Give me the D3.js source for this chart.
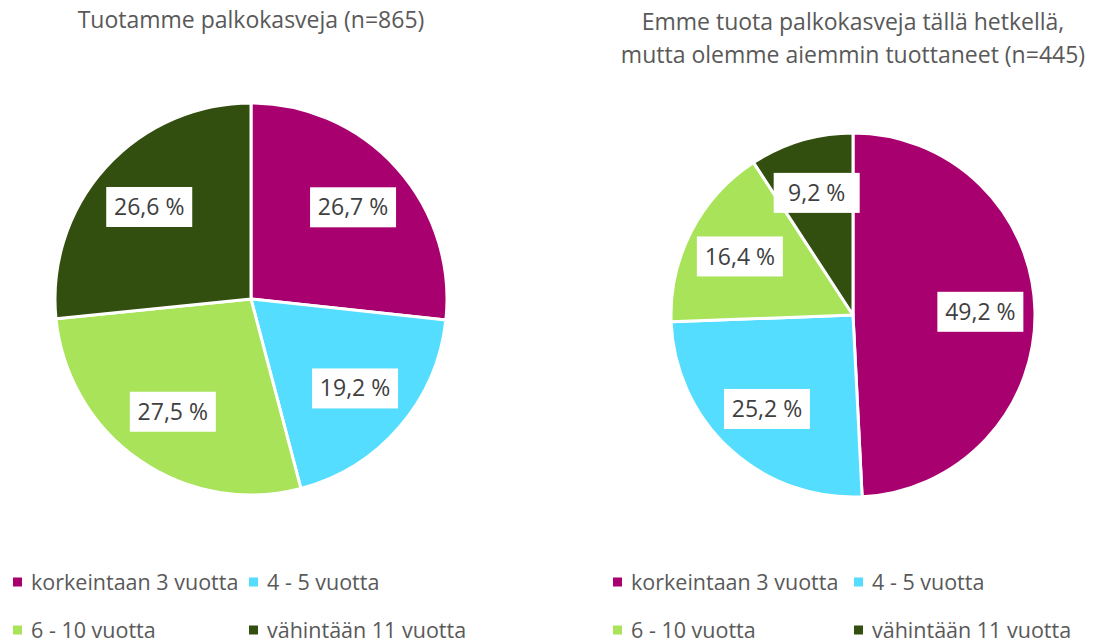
<!DOCTYPE html>
<html>
<head>
<meta charset="utf-8">
<script src="https://cdn.jsdelivr.net/npm/d3@7"></script>
<style>
  body { margin: 0; background: #fff; }
  text { font-family: "Open Sans", "Noto Sans", sans-serif; }
</style>
</head>
<body>
<div id="chart"></div>
<script>
// categories and colours
const categories = ["korkeintaan 3 vuotta", "4 - 5 vuotta", "6 - 10 vuotta", "vähintään 11 vuotta"];
const colors = ["#A8006F", "#55DDFF", "#A8E35A", "#334F10"];

// series values (%)
const producingValues = [26.7, 19.2, 27.5, 26.6];
const formerValues = [49.2, 25.2, 16.4, 9.2];

const producingTitle = ["Tuotamme palkokasveja (n=865)"];
const formerTitle = ["Emme tuota palkokasveja tällä hetkellä,", "mutta olemme aiemmin tuottaneet (n=445)"];

const width = 1100, height = 642;

const svg = d3.select("#chart").append("svg")
    .attr("width", width)
    .attr("height", height);

const fmt = v => d3.format(".1f")(v).replace(".", ",") + " %";

function drawPie(values, titleLines, cx, cy, r, titleY, legendX, colGap) {
    let g = svg.append("g");

    // title
    titleLines.forEach((line, i) => {
        g.append("text")
            .attr("x", cx)
            .attr("y", titleY + i * 33)
            .attr("text-anchor", "middle")
            .attr("font-size", 23)
            .attr("fill", "#595959")
            .text(line);
    });

    let pie = d3.pie().sort(null).value(d => d);
    let arcs = pie(values);
    let arc = d3.arc().innerRadius(0).outerRadius(r);
    let labelArc = d3.arc().innerRadius(r * 0.7).outerRadius(r * 0.7);

    let pg = g.append("g").attr("transform", `translate(${cx},${cy})`);

    pg.selectAll("path")
        .data(arcs)
        .enter()
        .append("path")
        .attr("d", arc)
        .attr("fill", (d, i) => colors[i])
        .attr("stroke", "#fff")
        .attr("stroke-width", 3)
        .attr("stroke-linejoin", "round");

    // data labels with white boxes
    let labels = pg.selectAll(".lbl")
        .data(arcs)
        .enter()
        .append("g")
        .attr("class", "lbl")
        .attr("transform", d => `translate(${labelArc.centroid(d)})`);

    labels.append("rect")
        .attr("x", -43)
        .attr("y", -20)
        .attr("width", 86)
        .attr("height", 40)
        .attr("fill", "#fff");

    labels.append("text")
        .attr("text-anchor", "middle")
        .attr("dy", "0.35em")
        .attr("font-size", 23)
        .attr("fill", "#404040")
        .text(d => fmt(d.data));

    // legend, 2 per row (bottom row is clipped by the frame as in the original)
    let lg = g.append("g").attr("transform", `translate(${legendX},0)`);
    categories.forEach((c, i) => {
        let col = i % 2, row = Math.floor(i / 2);
        let x = col * colGap, y = 582 + row * 48;
        lg.append("rect")
            .attr("x", x)
            .attr("y", y - 4.5)
            .attr("width", 9)
            .attr("height", 9)
            .attr("fill", colors[i]);
        lg.append("text")
            .attr("x", x + 18)
            .attr("y", y)
            .attr("dy", "0.35em")
            .attr("font-size", 21.5)
            .attr("fill", "#595959")
            .text(c);
    });
}

drawPie(producingValues, producingTitle, 251, 299, 196, 28, 13, 236);
drawPie(formerValues, formerTitle, 853, 315, 182, 30, 613, 241);
</script>
</body>
</html>
